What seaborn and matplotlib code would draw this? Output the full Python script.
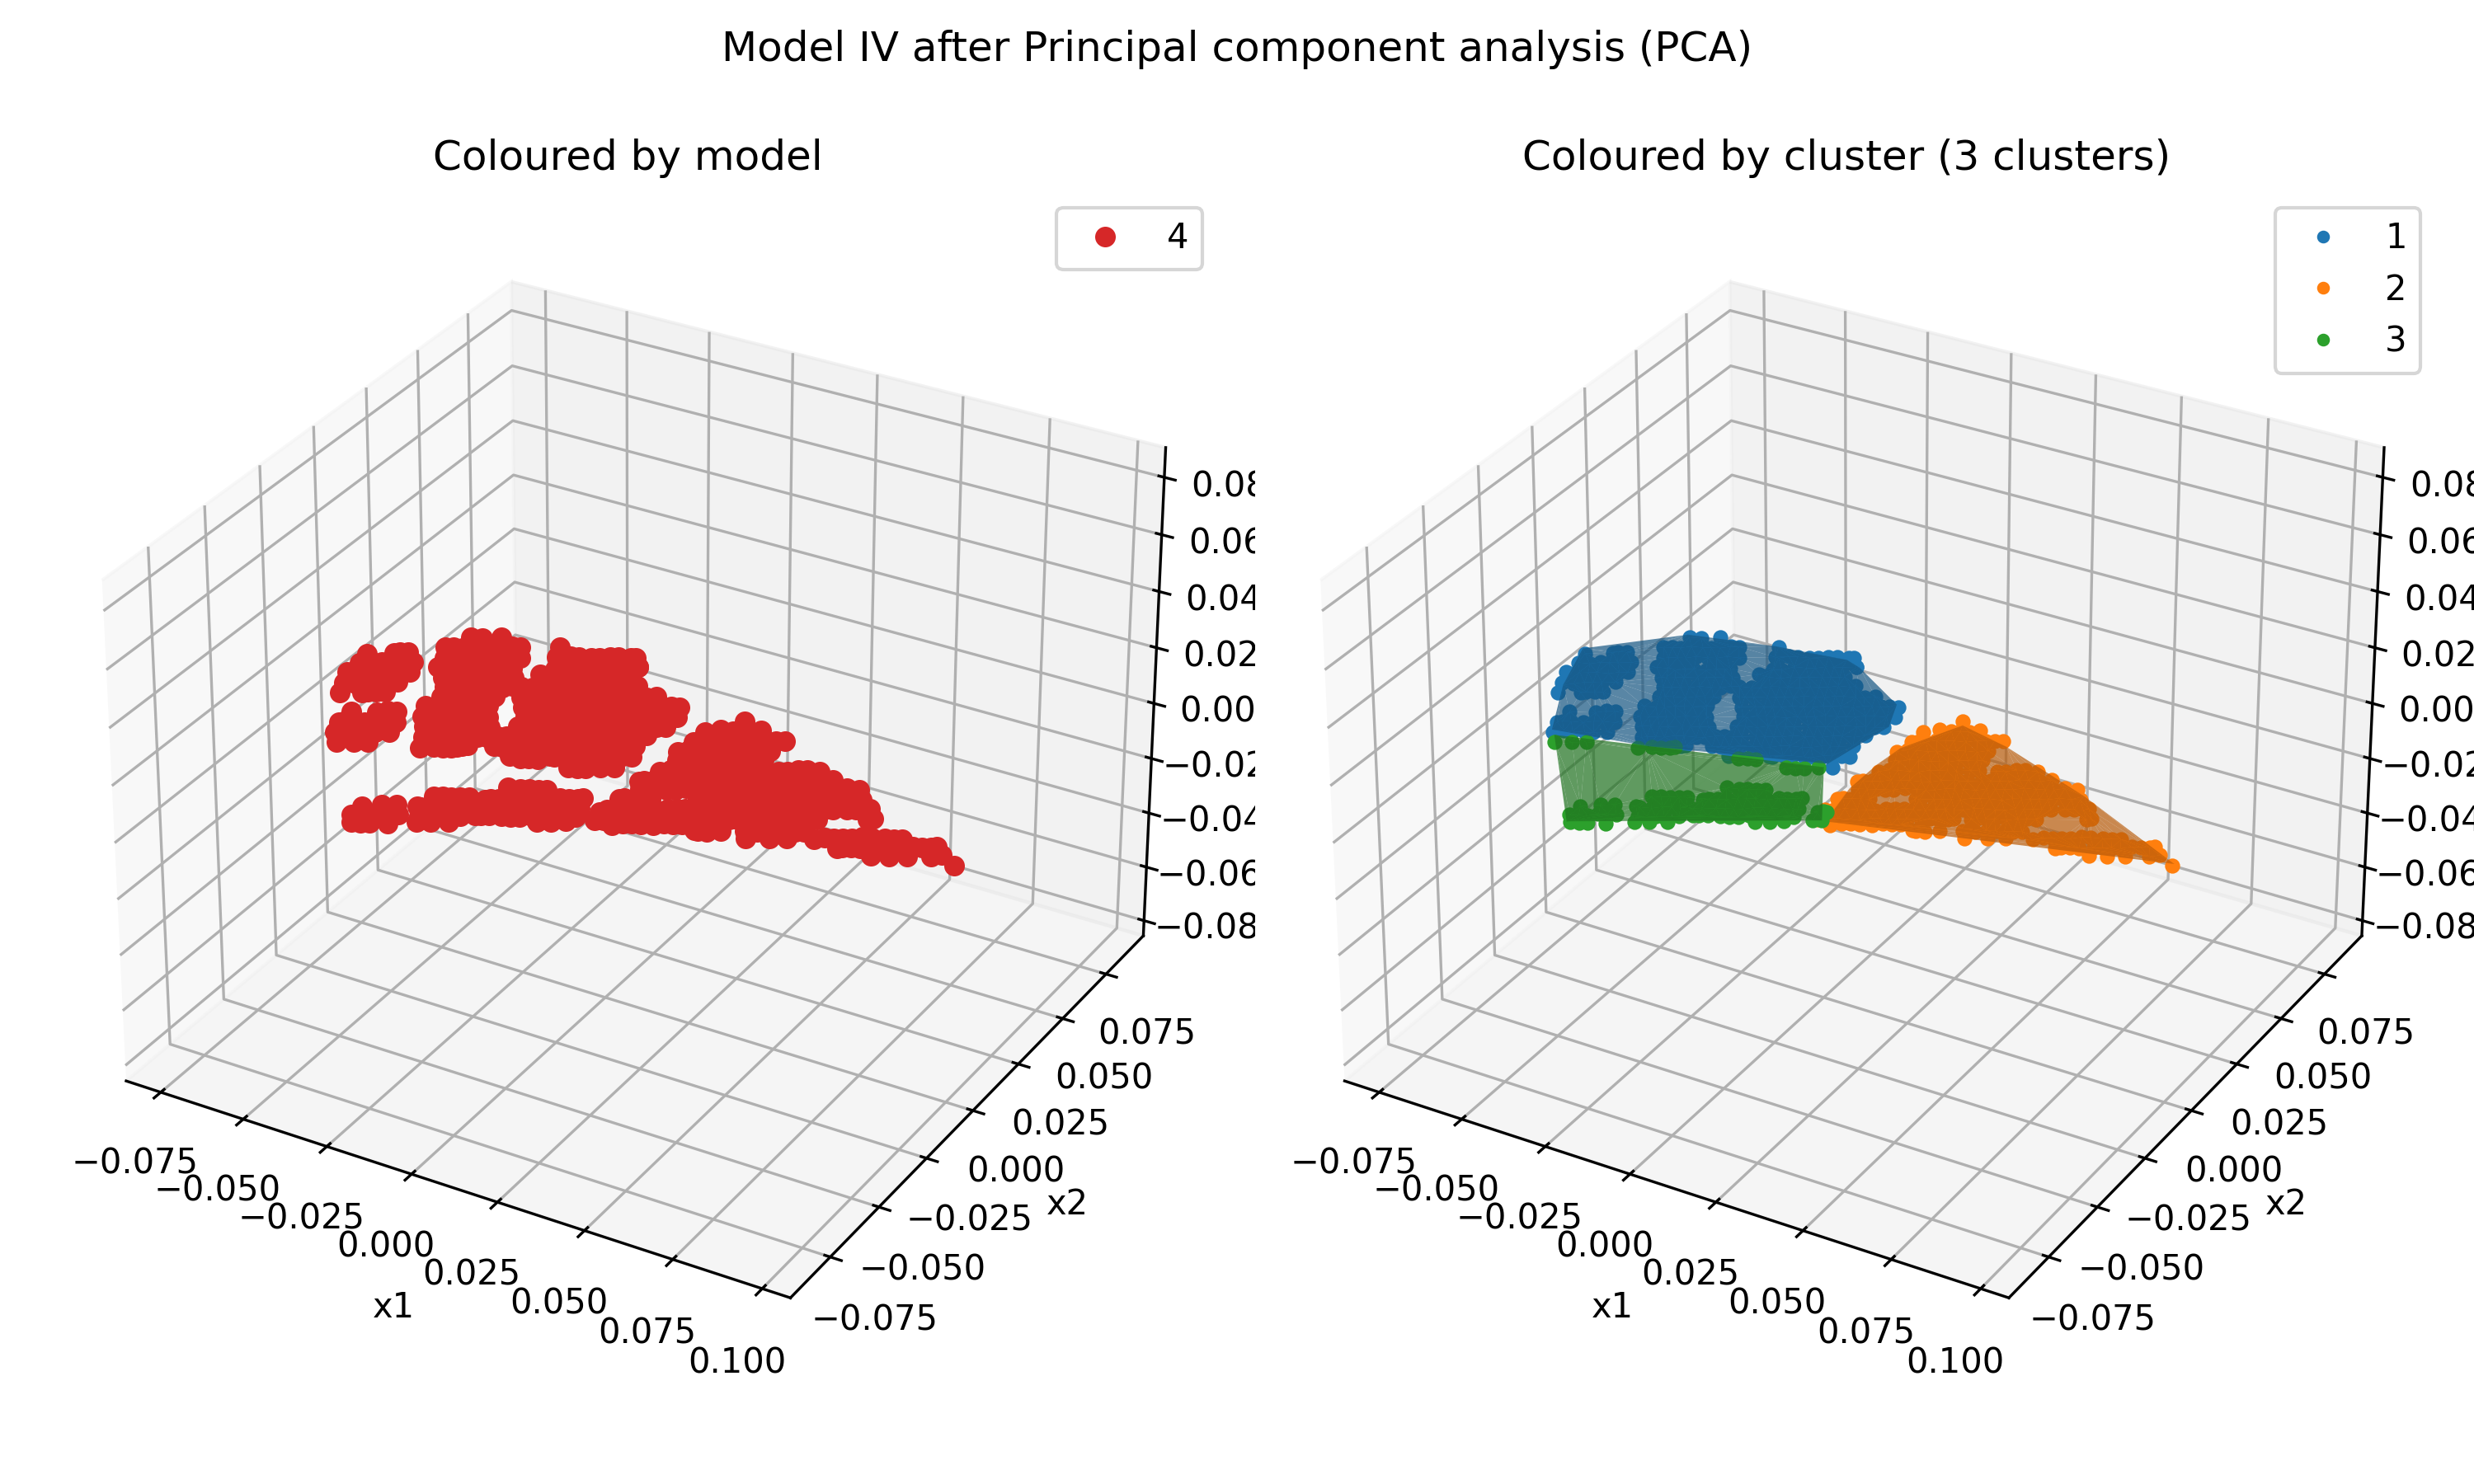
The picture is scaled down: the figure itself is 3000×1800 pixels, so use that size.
import numpy as np
import matplotlib
matplotlib.use("Agg")
import matplotlib.pyplot as plt
from matplotlib.path import Path
import seaborn as sns

# Values, in units of 1/1000
c1_x1 = [-79,-73,-72,-70,-78,-75,-73,-71,-69,-66,-78,-77,-75,-73,-71,-68,-66,-64,-76,-73,-71,-69,-67,-64,-74,-69,-68,-66,-64,-66,
         -60,-58,-56,-66,-65,-63,-60,-58,-56,-53,-64,-62,-60,-57,-55,-52,-60,-57,-53,-63,-61,-59,-57,-54,-52,-50,-48,-46,-37,-60,
         -59,-57,-55,-53,-50,-48,-46,-43,-35,-34,-32,-30,-27,-25,-23,-21,-18,-17,-59,-56,-54,-52,-50,-47,-45,-43,-42,-34,-32,-30,
         -28,-25,-23,-21,-19,-17,-14,-14,-55,-54,-52,-50,-47,-45,-43,-41,-39,-32,-31,-28,-26,-24,-22,-19,-17,-15,-14,-52,-50,-48,
         -46,-44,-41,-39,-37,-35,-32,-30,-28,-26,-24,-21,-19,-17,-15,-13,-10,-9,-50,-49,-47,-44,-42,-40,-38,-32,-31,-29,-26,-24,
         -22,-20,-18,-15,-13,-11,-9,-6,-4,-2,-51,-48,-46,-44,-42,-40,-37,-37,-29,-26,-24,-22,-20,-18,-15,-13,-11,-9,-7,-4,
         -2,0,2,4,6,-49,-47,-45,-43,-41,-39,-36,-34,-26,-25,-23,-21,-19,-16,-14,-12,-10,-8,-5,-3,-1,1,3,6,8,
         -46,-44,-42,-40,-37,-35,-33,-31,-25,-23,-20,-18,-16,-14,-12,-9,-7,-5,-3,-1,2,4,6,8,-43,-42,-40,-38,-36,-34,
         -31,-29,-27,-25,-23,-21,-18,-16,-14,-12,-10,-7,-5,-3,-1,1,4,6,-32,-31,-25,-23,-21,-19,-16,-14,-12,-10,-8,-5,
         -3,-1,1,3,6,-19,-17,-10,-9,-7,-5,-2,0,2,4,6,8,7]
c1_x2 = [12,16,17,18,7,8,10,11,12,14,1,1,3,4,5,6,8,9,-4,-3,-1,0,1,3,-9,-6,-5,-4,-3,-16,
         -13,-11,-10,-22,-21,-20,-19,-17,-16,-15,-27,-25,-24,-23,-22,-20,33,34,37,25,26,27,29,30,31,32,34,35,40,20,
         21,22,23,25,26,27,29,30,35,35,37,38,39,40,42,43,44,45,15,16,16,18,19,20,22,23,24,25,29,30,
         33,34,35,37,38,39,41,41,11,12,13,14,16,17,18,19,20,25,25,26,28,29,30,32,33,34,35,7,8,9,
         10,12,13,14,16,17,18,19,21,22,23,24,26,27,28,30,31,32,2,3,4,5,7,8,9,12,13,14,16,17,
         18,19,21,22,23,25,26,27,28,30,-4,-3,-2,0,1,2,3,4,8,10,11,12,13,15,16,17,19,20,21,22,
         24,25,26,27,28,-9,-8,-7,-6,-5,-3,-2,-1,4,4,6,7,8,9,11,12,13,15,16,17,18,20,21,22,23,
         -13,-12,-11,-10,-8,-7,-6,-5,-1,0,1,3,4,5,6,8,9,10,11,13,14,15,16,17,-18,-17,-16,-15,-13,-12,
         -11,-10,-8,-7,-6,-5,-3,-2,-1,0,2,3,4,5,7,8,9,11,-17,-16,-13,-12,-11,-9,-8,-7,-6,-4,-3,-2,
         -1,1,2,3,5,-15,-14,-10,-10,-8,-7,-6,-5,-3,-2,-1,0,-7]
c2_x1 = [24,18,21,24,26,28,30,18,19,21,23,25,27,30,32,34,36,38,17,19,21,24,26,28,30,32,35,37,19,20,
         22,24,27,29,31,33,35,37,38,18,20,22,25,27,29,31,33,35,38,40,44,46,48,50,53,16,17,19,21,23,
         25,27,30,32,34,37,38,40,43,45,47,49,51,53,56,58,18,20,22,24,26,28,31,33,35,37,39,41,44,46,
         48,50,52,54,57,59,61,63,66,16,17,19,21,23,33,34,37,39,41,43,45,47,49,52,54,56,58,60,62,64,
         67,69,16,18,20,23,25,27,29,31,33,35,38,40,42,44,46,48,50,53,55,57,59,61,63,65,68,70,72,73,
         16,17,19,21,24,26,28,30,32,34,36,39,41,43,45,46,50,51,53,55,58,60,62,64,75,76,21,23,25,27,
         30,32,34,36,40,41,43,46,51,52,54,56,58,60,62,64,53,58,62,68,70,72,74,76,78,80,83,85,87,75,
         76,78,80,83,85,87,89,91,93,95,96,84,88,92,97,99,104]
c2_x2 = [30,20,23,24,25,26,28,14,15,16,18,19,20,21,23,24,25,26,8,10,11,12,13,15,16,17,18,20,4,4,
         6,7,8,9,10,12,13,14,15,-3,-1,0,1,2,4,5,6,7,9,10,12,13,15,16,17,-10,-9,-8,-7,-5,
         -4,-3,-2,-1,1,3,3,4,6,7,8,9,11,12,13,15,-13,-12,-11,-10,-9,-7,-6,-5,-4,-2,-1,0,1,3,
         4,5,6,8,9,10,11,13,14,-20,-19,-18,-17,-16,-10,-10,-8,-7,-6,-5,-3,-2,-1,0,2,3,4,5,6,8,
         9,10,-26,-25,-23,-22,-21,-20,-18,-17,-16,-15,-14,-12,-11,-10,-9,-7,-6,-5,-4,-2,-1,0,1,2,4,5,6,7,
         -31,-31,-29,-28,-27,-26,-24,-23,-22,-21,-20,-18,-17,-16,-15,-14,-12,-11,-10,-9,-8,-6,-5,-4,2,3,-32,-30,-29,-28,
         -27,-25,-24,-23,-24,-24,-23,-21,-18,-18,-17,-15,-14,-13,-12,-11,-21,-18,-16,-13,-11,-10,-9,-8,-6,-5,-4,-3,-2,-14,
         -13,-12,-11,-9,-8,-7,-6,-4,-3,-2,-1,-13,-11,-9,-6,-4,-7]
c3_x1 = [-61,-57,-54,-41,-38,-36,-34,-33,-16,-14,-12,-3,-1,1,4,-38,-34,-31,-38,-36,-34,-32,-30,-28,-36,-34,-32,-28,-25,-23,
         -21,-19,-17,-26,-25,-22,-20,-18,-16,-15,-23,-21,-19,-17,-14,-22,-19,-15,-11,-8,-6,-4,-2,-13,-12,-10,-8,-6,-4,-2,
         1,3,5,7,8,-13,-11,-8,-6,-4,-2,0,2,4,7,9,10,-11,-10,-8,-5,-3,-1,1,3,5,7,10,11,4,
         7,10,15,16,17,16,18]
c3_x2 = [-31,-29,-27,-23,-21,-20,-19,-18,-15,-14,-13,-13,-12,-11,-9,-55,-52,-50,-60,-59,-58,-56,-55,-54,-63,-62,-61,-59,-42,-41,
         -40,-39,-38,-48,-48,-47,-45,-44,-43,-42,-52,-51,-50,-49,-47,-55,-53,-51,-29,-28,-27,-26,-25,-37,-36,-35,-34,-32,-31,-30,
         -29,-27,-26,-25,-24,-42,-41,-39,-38,-37,-36,-34,-33,-32,-31,-30,-29,-45,-44,-43,-42,-41,-40,-38,-37,-36,-35,-33,-33,-40,
         -38,-36,-28,-27,-27,-32,-31]
hull1_x1 = [-65,-75,-81,-61,-38,-18,-13,5,9,5,-39]
hull1_x2 = [-26,-5,14,34,40,43,41,29,18,-6,-21]
hull3_x1 = [-63,-60,-37,18,5,-38]
hull3_x2 = [-28,-32,-63,-31,-8,-23]
hull2_x1 = [19,16,16,17,25,40,69,104,66,50]
hull2_x2 = [-31,-14,0,10,28,24,12,-6,-14,-17]
x3_level = 0.005
clusters = ["1", "2", "3"]
model_label = "4"

colors = sns.color_palette("tab10")


def milli(values):
    return np.array(values) / 1000


def add_hull(ax, px, py, hx, hy, color, zorder):
    # hull outline plus the points inside it gives the fan of thin triangles
    inside = Path(np.c_[hx, hy]).contains_points(np.c_[px, py])
    xy = np.unique(np.c_[np.r_[px[inside], hx], np.r_[py[inside], hy]], axis=0)
    ax.plot_trisurf(xy[:, 0], xy[:, 1], np.full(len(xy), x3_level), color=tuple(np.array(color) * 0.72),
                    alpha=0.7, shade=False, linewidth=0, zorder=zorder)


fig = plt.figure(figsize=(10, 6), dpi=300)
fig.suptitle("Model IV after Principal component analysis (PCA)")

x1s = [milli(c1_x1), milli(c2_x1), milli(c3_x1)]
x2s = [milli(c1_x2), milli(c2_x2), milli(c3_x2)]
hulls = [(milli(hull1_x1), milli(hull1_x2)), (milli(hull2_x1), milli(hull2_x2)), (milli(hull3_x1), milli(hull3_x2))]

ax1 = fig.add_axes([0.0149, 0.075, 0.478, 0.797], projection="3d")
ax1.plot(np.concatenate(x1s), np.concatenate(x2s), x3_level, "o", ms=5, color=colors[3], label=model_label)
ax1.set_title("Coloured by model")

ax2 = fig.add_axes([0.5074, 0.075, 0.478, 0.797], projection="3d")
ax2.computed_zorder = False
point_order = [3, 1, 4]
hull_order = [6, 2, 5]
for i, name in enumerate(clusters):
    ax2.plot(x1s[i], x2s[i], x3_level, "o", ms=3.4, color=colors[i], label=name, zorder=point_order[i])
    add_hull(ax2, x1s[i], x2s[i], hulls[i][0], hulls[i][1], colors[i], hull_order[i])
ax2.set_title("Coloured by cluster (3 clusters)")

for ax in [ax1, ax2]:
    ax.set_xlim(-0.0856, 0.1078)
    ax.set_ylim(-0.0950, 0.0970)
    ax.set_zlim(-0.0857, 0.0903)
    ax.set_xlabel("x1")
    ax.set_ylabel("x2")
    ax.set_zlabel("x3")
ax1.legend()
ax2.legend(markerscale=0.8)

fig.savefig("out.png")
